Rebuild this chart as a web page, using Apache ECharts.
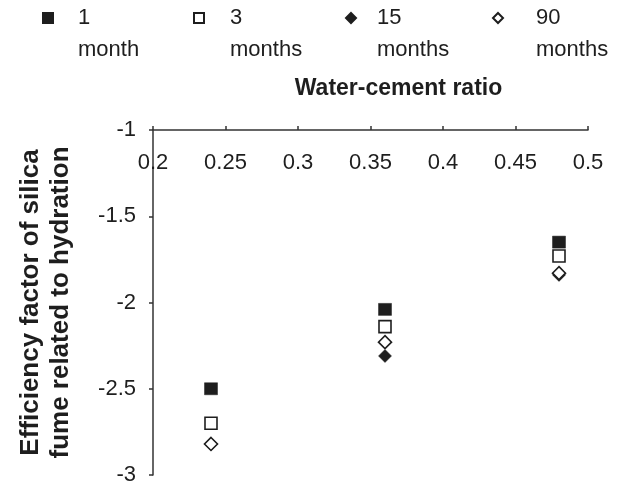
<!DOCTYPE html>
<html><head><meta charset="utf-8">
<script src="https://cdn.jsdelivr.net/npm/echarts@6/dist/echarts.min.js"></script>
<style>html,body{margin:0;padding:0;background:#fff}#c{width:619px;height:486px}</style>
</head><body><div id="c"></div>
<script>
// ---- data ----
const legendNums = ['1', '3', '15', '90'];
const legendWords = ['month', 'months', 'months', 'months'];
const ratios = [0.24, 0.36, 0.48];
const month1 = [-2.50, -2.04, -1.65];
const month3 = [-2.70, -2.14, -1.73];
const month15 = [-2.82, -2.31, -1.84];
const month90 = [-2.82, -2.23, -1.83];
const xAxisTitle = 'Water-cement ratio';
const yAxisTitle = 'Efficiency factor of silica\nfume related to hydration';

// ---- styles ----
const INK = '#1e1e1e';
const FONT = '"Liberation Sans", Arial, sans-serif';
const seriesValues = [month1, month3, month15, month90];
const symbols = ['rect', 'rect', 'diamond', 'diamond'];
const filled = [true, false, true, false];
const sizes = [[13, 12], 12, 13, 13];
const legendLeft = [42, 193, 345, 492];
const textPad = [20, 21, 16, 28];

const names = legendNums.map((n, i) => n + ' ' + legendWords[i]);

const series = names.map((name, i) => ({
  name: name,
  type: 'scatter',
  symbol: symbols[i],
  symbolSize: sizes[i],
  data: ratios.map((r, k) => [r, seriesValues[i][k]]),
  itemStyle: filled[i]
    ? { color: INK, borderColor: INK, borderWidth: 0.5, opacity: 1 }
    : { color: '#fff', borderColor: INK, borderWidth: 1.6, opacity: 1 },
  emphasis: { disabled: true },
  z: 2 + i
}));

const legends = names.map((name, i) => ({
  data: [name],
  left: legendLeft[i],
  top: -25,
  padding: 0,
  itemWidth: 10,
  itemHeight: 10,
  selectedMode: false,
  formatter: (nm) => {
    const idx = names.indexOf(nm);
    return '{e| }\n{t|' + legendNums[idx] + '}\n{t|' + legendWords[idx] + '}';
  },
  textStyle: {
    padding: [0, 0, 0, textPad[i]],
    rich: {
      e: { fontSize: 22, lineHeight: 32, fontFamily: FONT, color: INK },
      t: { fontSize: 22, lineHeight: 32, fontFamily: FONT, color: INK }
    }
  }
}));

const chart = echarts.init(document.getElementById('c'), null, { renderer: 'canvas' });
chart.setOption({
  backgroundColor: '#fff',
  animation: false,
  textStyle: { fontFamily: FONT },
  legend: legends,
  grid: { left: 153, top: 130, width: 435, height: 346, containLabel: false },
  xAxis: {
    type: 'value',
    position: 'top',
    min: 0.2, max: 0.5, interval: 0.05,
    name: xAxisTitle,
    nameLocation: 'middle',
    nameGap: 30,
    nameTextStyle: { fontSize: 23, fontWeight: 'bold', color: INK, fontFamily: FONT, padding: [0, 0, 0, 56] },
    axisLine: { onZero: false, lineStyle: { color: '#333', width: 1.5 } },
    axisTick: { show: true, length: 4, lineStyle: { color: '#333', width: 1.5 } },
    axisLabel: { inside: true, margin: 22, fontSize: 22, color: INK, fontFamily: FONT,
      formatter: v => String(Math.round(v * 100) / 100) },
    splitLine: { show: false }
  },
  yAxis: {
    type: 'value',
    min: -3, max: -1, interval: 0.5,
    name: yAxisTitle,
    nameLocation: 'middle',
    nameRotate: 90,
    nameGap: 77,
    nameTextStyle: { fontSize: 26, fontWeight: 'bold', color: INK, fontFamily: FONT, lineHeight: 30 },
    axisLine: { onZero: false, lineStyle: { color: '#333', width: 1.5 } },
    axisTick: { show: true, length: 4, lineStyle: { color: '#333', width: 1.5 } },
    axisLabel: { margin: 17, fontSize: 22, color: INK, fontFamily: FONT },
    splitLine: { show: false }
  },
  series: series
});
</script>
</body></html>
